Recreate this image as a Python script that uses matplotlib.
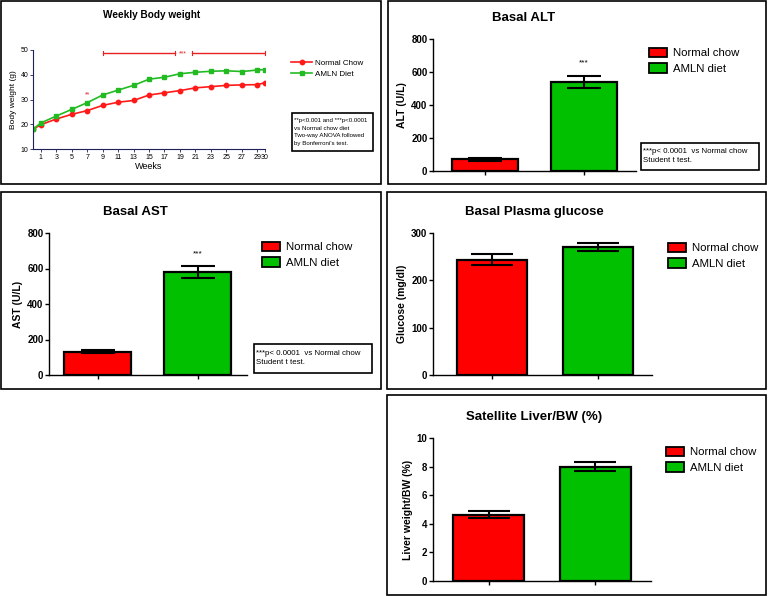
import matplotlib
matplotlib.use('Agg')
import matplotlib.pyplot as plt
from matplotlib.patches import Rectangle, Patch
from matplotlib.lines import Line2D
import numpy as np

plt.rcParams['font.family'] = ['Liberation Sans', 'DejaVu Sans']

# datos semanales de peso corporal
semanas = [0, 1, 3, 5, 7, 9, 11, 13, 15, 17, 19, 21, 23, 25, 27, 29, 30]
peso_normal = [18.0, 19.8, 22.1, 24.0, 25.5, 27.6, 28.9, 29.6, 31.8, 32.7, 33.6, 34.7, 35.2, 35.7, 35.9, 36.0, 36.8]
peso_amln = [18.0, 20.5, 23.3, 26.0, 28.7, 31.8, 33.8, 35.7, 38.2, 39.0, 40.4, 41.0, 41.4, 41.6, 41.3, 41.9, 42.1]
ticks_semanas = [1, 3, 5, 7, 9, 11, 13, 15, 17, 19, 21, 23, 25, 27, 29, 30]

grupos = ['Normal chow', 'AMLN diet']
alt_media = [70, 540]
alt_err = [8, 37]
ast_media = [132, 580]
ast_err = [10, 35]
glucosa_media = [244, 271]
glucosa_err = [11, 8]
higado_media = [4.65, 8.0]
higado_err = [0.25, 0.3]

ROJO = '#FF0000'
VERDE = '#00C000'

W, H = 768, 596
fig = plt.figure(figsize=(W / 100, H / 100), dpi=100)


def caja(x0, y0, x1, y1):
    return [x0 / W, 1 - y1 / H, (x1 - x0) / W, (y1 - y0) / H]


def marco(x0, y0, x1, y1):
    fig.patches.append(Rectangle((x0 / W, 1 - y1 / H), (x1 - x0) / W, (y1 - y0) / H,
                                 transform=fig.transFigure, fill=False,
                                 edgecolor='black', linewidth=1.2))


def texto_fig(x, y, s, **kw):
    fig.text(x / W, 1 - y / H, s, **kw)


# marcos de los paneles
marco(1, 1, 381, 184)
marco(388, 1, 766, 184)
marco(1, 192, 381, 389)
marco(387, 192, 766, 389)
marco(387, 395, 766, 595)

# --- Panel 1: peso semanal ---
ax = fig.add_axes(caja(33, 50, 265, 149))
ax.plot(semanas, peso_normal, '-o', color='#FF1a1a', lw=1.2, ms=3.2)
ax.plot(semanas, peso_amln, '-s', color='#22BB22', lw=1.2, ms=3.2)
ax.set_xlim(0, 30)
ax.set_ylim(10, 50)
ax.set_xticks(ticks_semanas)
ax.set_xticklabels([str(t) for t in ticks_semanas])
ax.set_yticks([10, 20, 30, 40, 50])
for s in ['top', 'right']:
    ax.spines[s].set_visible(False)
for s in ['left', 'bottom']:
    ax.spines[s].set_color('#20205a')
    ax.spines[s].set_linewidth(0.8)
ax.tick_params(labelsize=5, length=2, width=0.6, pad=1.5, colors='#20205a', labelcolor='black')
ax.set_xlabel('Weeks', fontsize=6.5, labelpad=1)
ax.set_ylabel('Body weight (g)', fontsize=6, labelpad=2)
# barra de significancia
ax.plot([9, 18.3], [48.6, 48.6], color='#E82020', lw=1)
ax.plot([20.5, 30], [48.6, 48.6], color='#E82020', lw=1)
for xv in [9, 18.3, 20.5, 30]:
    ax.plot([xv, xv], [47.8, 49.4], color='#E82020', lw=0.8, clip_on=False)
ax.text(19.4, 48.6, '***', color='#E82020', fontsize=5, ha='center', va='center')
ax.text(7, 31.8, '**', color='#E82020', fontsize=5, ha='center', va='center')
ax.legend(handles=[Line2D([], [], color='#FF1a1a', marker='o', ms=3.2, lw=1.2, label='Normal Chow'),
                   Line2D([], [], color='#22BB22', marker='s', ms=3.2, lw=1.2, label='AMLN Diet')],
          loc='upper left', bbox_to_anchor=(287 / W, 1 - 55 / H), bbox_transform=fig.transFigure,
          frameon=False, fontsize=5.8, handlelength=2.6, labelspacing=0.45, borderpad=0, handletextpad=0.4)
texto_fig(152, 15, 'Weekly Body weight', fontsize=7.2, fontweight='bold', ha='center', va='center')
texto_fig(294, 132, "**p<0.001 and ***p<0.0001\nvs Normal chow diet\nTwo-way ANOVA followed\nby Bonferroni's test.",
          fontsize=4.4, ha='left', va='center', linespacing=1.6)
marco(292, 113, 373, 151)


# --- paneles de barras ---
def barras(rect, medias, errs, ylim, yticks, titulo, tpos, ylabel, leg, xlim, ancho, cap, estrella=None):
    ax = fig.add_axes(caja(*rect))
    x = np.arange(len(grupos))
    ax.bar(x, medias, ancho, color=[ROJO, VERDE], edgecolor='black', linewidth=1.6, zorder=2)
    ax.errorbar(x, medias, yerr=errs, fmt='none', ecolor='black', elinewidth=1.5,
                capsize=cap, capthick=1.5, zorder=3)
    ax.set_xlim(*xlim)
    ax.set_ylim(*ylim)
    ax.set_yticks(yticks)
    ax.set_xticks(x)
    ax.set_xticklabels(['', ''])
    for s in ['top', 'right']:
        ax.spines[s].set_visible(False)
    ax.spines['left'].set_linewidth(1.0)
    ax.spines['bottom'].set_linewidth(1.0)
    ax.tick_params(axis='y', labelsize=7, length=3, width=1, pad=1)
    ax.tick_params(axis='x', length=3, width=1)
    for lb in ax.get_yticklabels():
        lb.set_fontweight('bold')
    ax.set_ylabel(ylabel, fontsize=7.5, fontweight='bold', labelpad=3)
    if estrella is not None:
        ax.text(1, estrella, '***', fontsize=6, ha='center', va='center')
    texto_fig(tpos[0], tpos[1], titulo, fontsize=9.5, fontweight='bold', ha='center', va='center')
    ax.legend(handles=[Patch(facecolor=ROJO, edgecolor='black', linewidth=1.3, label=grupos[0]),
                       Patch(facecolor=VERDE, edgecolor='black', linewidth=1.3, label=grupos[1])],
              loc='upper left', bbox_to_anchor=(leg[0] / W, 1 - leg[1] / H), bbox_transform=fig.transFigure,
              frameon=False, fontsize=8.2, handlelength=1.6, handleheight=0.9, labelspacing=0.45,
              borderpad=0, handletextpad=0.5)
    return ax


barras((433, 39, 636, 171), alt_media, alt_err, (0, 800), [0, 200, 400, 600, 800],
       'Basal ALT', (524, 18), 'ALT (U/L)', (643, 42), (-0.525, 1.525), 0.667, 12, estrella=655)
texto_fig(643, 156, '***p< 0.0001  vs Normal chow\nStudent t test.', fontsize=5.7, ha='left', va='center', linespacing=1.45)
marco(641, 143, 759, 170)

barras((49, 233, 247, 375), ast_media, ast_err, (0, 800), [0, 200, 400, 600, 800],
       'Basal AST', (135, 212), 'AST (U/L)', (256, 236), (-0.485, 1.495), 0.67, 12, estrella=683)
texto_fig(256, 358, '***p< 0.0001  vs Normal chow\nStudent t test.', fontsize=5.7, ha='left', va='center', linespacing=1.45)
marco(254, 344, 372, 373)

barras((433, 233, 652, 375), glucosa_media, glucosa_err, (0, 300), [0, 100, 200, 300],
       'Basal Plasma glucose', (534, 212), 'Glucose (mg/dl)', (662, 237), (-0.557, 1.51), 0.66, 15)

barras((433, 438, 651, 581), higado_media, higado_err, (0, 10), [0, 2, 4, 6, 8, 10],
       'Satellite Liver/BW (%)', (534, 417), 'Liver weight/BW (%)', (660, 441), (-0.52, 1.52), 0.67, 15)

fig.savefig('out.png', dpi=100)
